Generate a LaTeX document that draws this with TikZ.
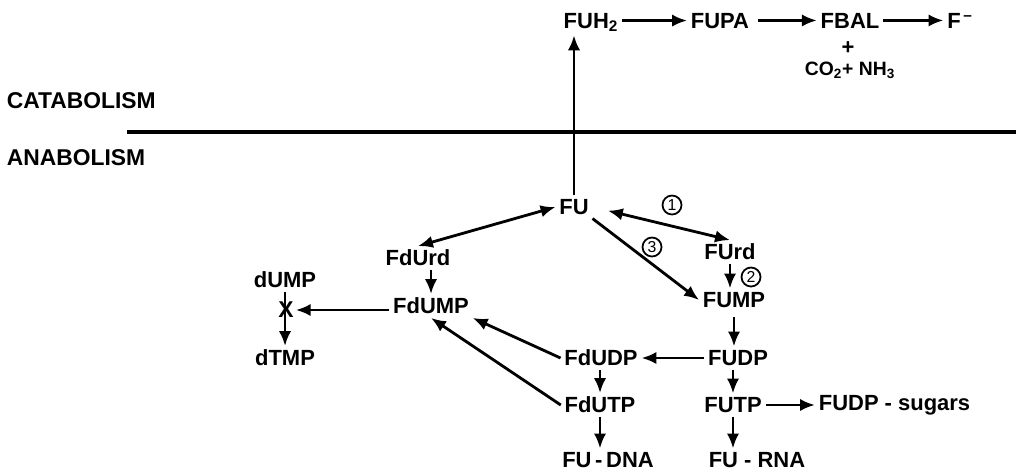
\documentclass[tikz,border=0pt]{standalone}
\usepackage{fontspec}
\setmainfont{Liberation Sans}
\usetikzlibrary{arrows.meta}

\begin{document}
\begin{tikzpicture}[x=0.02cm,y=-0.02cm,
  font=\fontsize{12.5}{14}\selectfont\bfseries,
  every node/.style={inner sep=2pt},
  arr/.style={line width=1.6pt,-{Latex[length=8.5pt,width=7pt]}},
  dbl/.style={line width=1.6pt,{Latex[length=8.5pt,width=7pt]}-{Latex[length=8.5pt,width=7pt]}},
  num/.style={draw,circle,line width=1pt,inner sep=0pt,minimum size=0.38cm,font=\fontsize{9}{10}\selectfont}]
\useasboundingbox (0,0) rectangle (1016,471);

% catabolism
\node (fuh) [anchor=base] at (591,28) {FUH\textsubscript{2}};
\node (fupa) [anchor=base] at (720,28) {FUPA};
\node (fbal) [anchor=base] at (850,28) {FBAL};
\node (fion) [anchor=base] at (960,28) {F\textsuperscript{\,--}};
\node (plus) at (848,48) {+};
\node (co) at (850,70) [font=\fontsize{11}{12}\selectfont\bfseries] {CO\textsubscript{2}+ NH\textsubscript{3}};

\node (cat) [anchor=west, font=\fontsize{13}{14}\selectfont\bfseries] at (3,101) {CATABOLISM};
\node (ana) [anchor=west, font=\fontsize{13}{14}\selectfont\bfseries] at (3,158) {ANABOLISM};
\coordinate (lft) at (127,132);
\coordinate (rgt) at (1016,132);
\draw[line width=2pt] (lft) -- (rgt);

% anabolism
\node (fu) at (574,207) {FU};
\node (fdurd) at (418,258) {FdUrd};
\node (furd) at (730,252) {FUrd};
\node (dump) at (285,280) {dUMP};
\node (fdump) at (431,306) {FdUMP};
\node (fump) at (734,300) {FUMP};
\node (dtmp) at (285,358) {dTMP};
\node (fdudp) at (601,358) {FdUDP};
\node (fudp) at (738,358) {FUDP};
\node (fdutp) at (600,405) {FdUTP};
\node (futp) at (733,405) {FUTP};
\node (sugars) [anchor=west] at (815,405) {FUDP - sugars};
\node (fudna) at (608,460) {FU\,-\,DNA};
\node (furna) at (757,460) {FU - RNA};

\node (one) [num] at (672,205) {1};
\node (two) [num] at (751,277) {2};
\node (three) [num] at (652,247) {3};

\draw[arr] (fu.north) -- (fu.north |- fuh.south);
\draw[arr] (fuh.east |- fupa) -- (fupa.west);
\draw[arr, shorten <=3pt] (fupa.east) -- (fbal.west);
\draw[arr] (fbal.east) -- (fion.west |- fbal);

\draw[dbl] (fu.west) -- (fdurd.north);
\draw[dbl, shorten <=9pt] (fu.east) -- (furd.north);
\draw[arr] (fu.south east) -- (fump.west);
\draw[arr] (furd.south) -- (furd.south |- fump.north);
\draw[arr] (fdurd.south -| fdump.north) -- (fdump.north);
\draw[arr] (dump.south) -- (dtmp.north);
\node (blk) at (286,310) [inner sep=0pt, font=\fontsize{13}{13}\selectfont\bfseries] {X};
\draw[arr, shorten >=1pt] (blk.east -| fdump.west) -- (blk.east);

\draw[arr, shorten <=3pt] (fump.south) -- (fump.south |- fudp.north);
\draw[arr] (futp.north |- fudp.south) -- (futp.north);
\draw[arr] (futp.south) -- (futp.south |- furna.north);
\draw[arr] (fdutp.north |- fdudp.south) -- (fdutp.north);
\draw[arr] (fdutp.south) -- (fdutp.south |- fudna.north);

\draw[arr] (fudp.west) -- (fdudp.east);
\draw[arr] (futp.east) -- (sugars.west);
\draw[arr] (fdudp.west) -- (fdump.south east);
\draw[arr] (fdutp.west) -- (fdump.south);
\end{tikzpicture}
\end{document}
